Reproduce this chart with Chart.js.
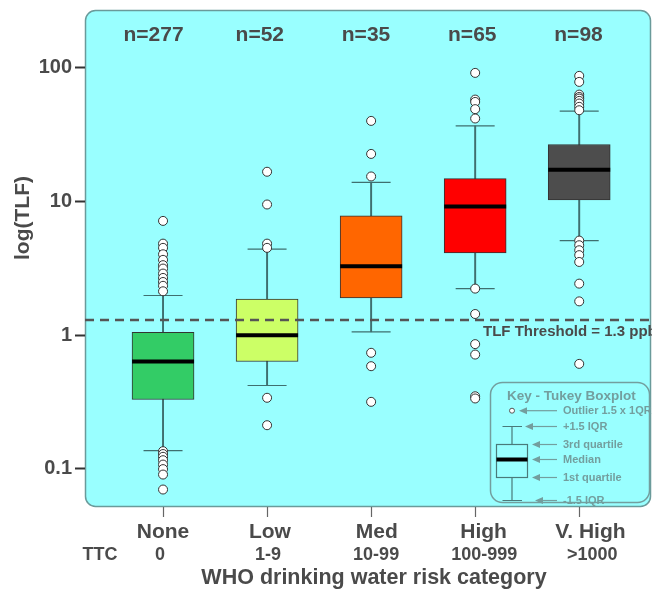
<!DOCTYPE html>
<html>
<head>
<meta charset="utf-8">
<title>TLF by WHO risk category</title>
<script src="https://cdn.jsdelivr.net/npm/chart.js"></script>
<style>
  html, body { margin: 0; padding: 0; background: #fff; }
  canvas { display: block; }
</style>
</head>
<body>
<canvas id="tlfChart" width="652" height="589"></canvas>
<script>
// categories along the x axis
const categories = ['None', 'Low', 'Med', 'High', 'V. High'];
const ttcRanges = ['0', '1-9', '10-99', '100-999', '>1000'];
const counts = [277, 52, 35, 65, 98];

// Tukey boxplot statistics (TLF, ppb)
const q1 = [0.33, 0.635, 1.90, 4.13, 10.3];
const medians = [0.635, 1.0, 3.28, 9.17, 17.3];
const q3 = [1.05, 1.86, 7.8, 14.85, 26.7];
const whiskerLow = [0.137, 0.42, 1.06, 2.23, 5.1];
const whiskerHigh = [1.98, 4.4, 13.9, 36.8, 47.4];

// outliers per category
const outliersNone = [7.16, 4.84, 4.5, 4.03, 3.66, 3.34, 3.15, 2.89, 2.68, 2.5, 2.34, 2.13,
  0.1355, 0.129, 0.123, 0.116, 0.1076, 0.0995, 0.0906, 0.070];
const outliersLow = [16.7, 9.5, 4.84, 4.5, 0.34, 0.212];
const outliersMed = [40.1, 22.7, 15.4, 0.738, 0.586, 0.317];
const outliersHigh = [91.7, 57.9, 55.6, 49.1, 41.8, 2.23, 1.44, 0.857, 0.716, 0.349, 0.336];
const outliersVHigh = [87.1, 78.5, 63.1, 60.6, 58.9, 56.6, 54.1, 51.1, 48.2,
  5.1, 4.71, 4.32, 3.97, 3.53, 2.43, 1.79, 0.61];
const outliers = [outliersNone, outliersLow, outliersMed, outliersHigh, outliersVHigh];

const threshold = 1.3;
const yTicks = [0.1, 1, 10, 100];

const boxColors = ['#33cc66', '#ccff66', '#ff6600', '#ff0000', '#4d4d4d'];
const whiskerColor = '#3f6f6f';
const textColor = '#4a4a4a';
const FONT = '"Liberation Sans", Arial, sans-serif';

const xs = categories.map((c, i) => i + 1);

function roundRect(ctx, x, y, w, h, r) {
  ctx.beginPath();
  ctx.moveTo(x + r, y);
  ctx.arcTo(x + w, y, x + w, y + h, r);
  ctx.arcTo(x + w, y + h, x, y + h, r);
  ctx.arcTo(x, y + h, x, y, r);
  ctx.arcTo(x, y, x + w, y, r);
  ctx.closePath();
}

// cyan panel behind the plot area
const panelPlugin = {
  id: 'panel',
  beforeDraw(chart) {
    const {ctx, chartArea: a} = chart;
    ctx.save();
    roundRect(ctx, a.left + 0.5, a.top + 0.5, a.right - a.left - 1, a.bottom - a.top - 1, 10);
    ctx.fillStyle = '#99ffff';
    ctx.fill();
    ctx.lineWidth = 1.5;
    ctx.strokeStyle = '#6a9a9a';
    ctx.stroke();
    ctx.restore();
  }
};

function drawKey(ctx) {
  const c = '#739e9e';
  ctx.save();
  ctx.strokeStyle = c;
  ctx.lineWidth = 1.5;
  roundRect(ctx, 490.5, 382.5, 159, 120, 12);
  ctx.stroke();
  ctx.fillStyle = c;
  ctx.textAlign = 'left';
  ctx.textBaseline = 'middle';
  ctx.font = 'bold 13.5px ' + FONT;
  ctx.fillText('Key - Tukey Boxplot', 507, 396);
  const items = [
    ['Outlier 1.5 x 1QR', 410.7, 519],
    ['+1.5 IQR', 426.5, 525],
    ['3rd quartile', 444.5, 532],
    ['Median', 459.5, 532],
    ['1st quartile', 477.5, 532],
    ['-1.5 IQR', 500.5, 535]
  ];
  ctx.font = 'bold 11px ' + FONT;
  items.forEach(([t, y, tip]) => {
    ctx.fillText(t, 563, y);
    ctx.lineWidth = 1.2;
    ctx.beginPath();
    ctx.moveTo(tip + 6, y);
    ctx.lineTo(557, y);
    ctx.stroke();
    ctx.beginPath();
    ctx.moveTo(tip, y);
    ctx.lineTo(tip + 8, y - 3.5);
    ctx.lineTo(tip + 8, y + 3.5);
    ctx.closePath();
    ctx.fill();
  });
  // small sample boxplot
  const k = '#4a7a7a';
  ctx.strokeStyle = k;
  ctx.lineWidth = 1.2;
  ctx.beginPath();
  ctx.moveTo(512, 426.5); ctx.lineTo(512, 500.5);
  ctx.moveTo(502.5, 426.5); ctx.lineTo(522, 426.5);
  ctx.moveTo(502.5, 500.5); ctx.lineTo(522, 500.5);
  ctx.stroke();
  ctx.fillStyle = '#99ffff';
  ctx.fillRect(496.5, 444.5, 31, 33);
  ctx.strokeRect(496.5, 444.5, 31, 33);
  ctx.strokeStyle = '#000';
  ctx.lineWidth = 4;
  ctx.beginPath();
  ctx.moveTo(496.5, 459.5); ctx.lineTo(527.5, 459.5);
  ctx.stroke();
  ctx.fillStyle = '#fff';
  ctx.strokeStyle = '#555';
  ctx.lineWidth = 1;
  ctx.beginPath();
  ctx.arc(512, 410.7, 2.5, 0, Math.PI * 2);
  ctx.fill();
  ctx.stroke();
  ctx.restore();
}

// text labels: counts, category names, TTC ranges, titles, threshold label, key
const labelPlugin = {
  id: 'labels',
  afterDraw(chart) {
    const {ctx} = chart;
    const xScale = chart.scales.x;
    const yScale = chart.scales.y;
    ctx.save();
    ctx.fillStyle = textColor;
    ctx.textAlign = 'center';
    ctx.textBaseline = 'middle';
    categories.forEach((cat, i) => {
      const px = xScale.getPixelForValue(i + 1);
      ctx.font = 'bold 21px ' + FONT;
      ctx.fillText('n=' + counts[i], px - 9.5 + i * 2.2, 35);
      ctx.fillText(cat, px + i * 2.8, 532);
      ctx.font = 'bold 18px ' + FONT;
      ctx.fillText(ttcRanges[i], px - 3 + i * 4, 555);
    });
    ctx.font = 'bold 18px ' + FONT;
    ctx.fillText('TTC', 100, 555);
    ctx.font = 'bold 21.5px ' + FONT;
    ctx.fillText('WHO drinking water risk category', 374, 578);

    ctx.textAlign = 'left';
    ctx.font = 'bold 15px ' + FONT;
    ctx.fillText('TLF Threshold = ' + threshold + ' ppb', 483, yScale.getPixelForValue(threshold) + 12);

    ctx.save();
    ctx.translate(23, 218);
    ctx.rotate(-Math.PI / 2);
    ctx.textAlign = 'center';
    ctx.font = 'bold 21px ' + FONT;
    ctx.fillText('log(TLF)', 0, 0);
    ctx.restore();
    ctx.restore();

    drawKey(ctx);
  }
};

const ctx = document.getElementById('tlfChart').getContext('2d');
new Chart(ctx, {
  type: 'bar',
  data: {
    datasets: [
      {
        // whisker stems
        type: 'bar',
        data: xs.map((x, i) => ({x: x, y: [whiskerLow[i], whiskerHigh[i]]})),
        backgroundColor: whiskerColor,
        borderWidth: 0,
        barThickness: 1.3,
        maxBarThickness: 1.3,
        grouped: false,
        order: 6
      },
      {
        // boxes (Q1 to Q3)
        type: 'bar',
        data: xs.map((x, i) => ({x: x, y: [q1[i], q3[i]]})),
        backgroundColor: boxColors,
        borderColor: '#333333',
        borderWidth: 1,
        borderSkipped: false,
        barThickness: 62,
        maxBarThickness: 62,
        grouped: false,
        order: 5
      },
      {
        // whisker caps
        type: 'scatter',
        data: xs.flatMap((x, i) => [{x: x, y: whiskerLow[i]}, {x: x, y: whiskerHigh[i]}]),
        pointStyle: 'line',
        radius: 19.5,
        borderColor: whiskerColor,
        borderWidth: 1.2,
        order: 4
      },
      {
        // medians
        type: 'scatter',
        data: xs.map((x, i) => ({x: x, y: medians[i]})),
        pointStyle: 'line',
        radius: 31,
        borderColor: '#000000',
        borderWidth: 4,
        order: 3
      },
      {
        // threshold line
        type: 'line',
        data: [{x: 0.25, y: threshold}, {x: 5.69, y: threshold}],
        borderColor: '#555555',
        borderWidth: 2.5,
        borderDash: [9, 6],
        pointRadius: 0,
        order: 2
      },
      {
        // outliers
        type: 'scatter',
        data: xs.flatMap((x, i) => outliers[i].map(v => ({x: x, y: v}))),
        pointStyle: 'circle',
        radius: 4.5,
        backgroundColor: '#ffffff',
        borderColor: '#333333',
        borderWidth: 1,
        order: 1
      }
    ]
  },
  options: {
    responsive: false,
    animation: false,
    events: [],
    layout: { autoPadding: false, padding: { top: 10, right: 1, left: 0, bottom: 0 } },
    plugins: {
      legend: { display: false },
      tooltip: { enabled: false }
    },
    scales: {
      x: {
        type: 'linear',
        min: 0.25,
        max: 5.69,
        offset: false,
        border: { display: false },
        grid: {
          offset: false,
          drawOnChartArea: false,
          drawTicks: true,
          tickLength: 10,
          tickColor: '#666666',
          tickWidth: 1.2
        },
        ticks: { display: false },
        afterBuildTicks: (scale) => { scale.ticks = xs.map(v => ({value: v})); },
        afterFit: (scale) => {
          scale.height = 82;
          scale.paddingLeft = 0;
          scale.paddingRight = 0;
        }
      },
      y: {
        type: 'logarithmic',
        min: 0.0518,
        max: 271,
        border: { display: false },
        grid: {
          drawOnChartArea: false,
          drawTicks: true,
          tickLength: 10,
          tickColor: '#333333',
          tickWidth: 2
        },
        ticks: {
          autoSkip: false,
          padding: 3,
          color: textColor,
          font: { family: FONT, size: 20, weight: 'bold' },
          callback: (v) => String(v)
        },
        afterBuildTicks: (scale) => { scale.ticks = yTicks.map(v => ({value: v})); },
        afterFit: (scale) => {
          scale.width = 85;
          scale.paddingTop = 0;
          scale.paddingBottom = 0;
        }
      }
    }
  },
  plugins: [panelPlugin, labelPlugin]
});
</script>
</body>
</html>
